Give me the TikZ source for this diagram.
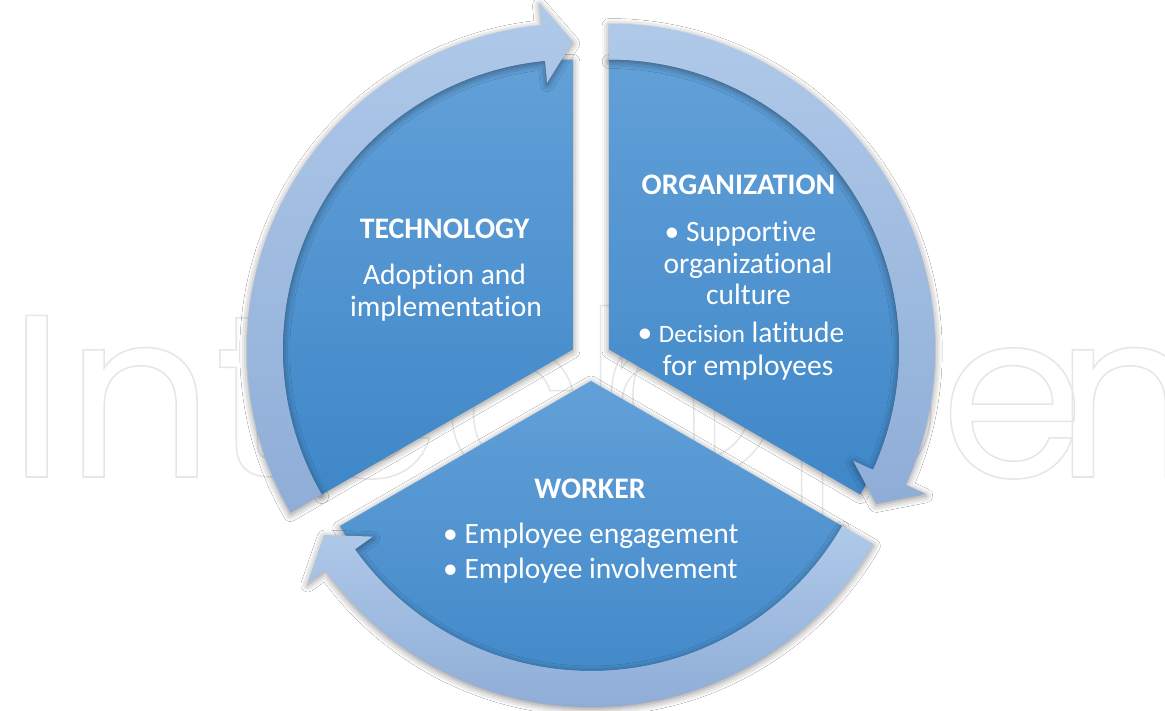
\documentclass[tikz,border=0pt]{standalone}
\usepackage{fontspec}
\setmainfont{Carlito}[Ligatures={NoCommon,NoContextual}]
\newfontfamily\wmfont{Poppins}
\usetikzlibrary{shadows.blur}
\definecolor{secTop}{HTML}{62A0D8}
\definecolor{secBot}{HTML}{3F87C8}
\definecolor{arrTop}{HTML}{AFC9E9}
\definecolor{arrBot}{HTML}{8FADD7}
\definecolor{wmgray}{HTML}{E6E6E6}
\tikzset{
  softshadow/.style={blur shadow={shadow xshift=0pt, shadow yshift=-2pt, shadow blur radius=7pt, shadow opacity=45}},
  sector/.style={top color=secTop, bottom color=secBot, draw=none, softshadow},
  cyclearrow/.style={top color=arrTop, bottom color=arrBot, draw=none, softshadow},
  txt/.style={text=white, font=\fontsize{29.5}{32}\selectfont, inner sep=0pt, anchor=base},
  headtxt/.style={txt, font=\fontsize{29.8}{32}\selectfont\bfseries},
}
\newcommand\mysector[1]{%
  \begin{scope}[shift={(C)}, shift={(#1:21)}]
    \path[sector] (0,0) -- (#1-60:290) arc[start angle=#1-60, end angle=#1+60, radius=290] -- cycle;
  \end{scope}}
\newcommand\myarrow[3]{%
  \begin{scope}[shift={(C)}, shift={(#1:21)}]
    \path[cyclearrow] (#2:326) arc[start angle=#2, end angle=#3+5.5, radius=326]
      -- (#3+5.5:348) -- (#3:308) -- (#3+5.5:268) -- (#3+5.5:290)
      arc[start angle=#3+5.5, end angle=#2, radius=290] -- cycle;
  \end{scope}}
\begin{document}
\begin{tikzpicture}[x=1pt, y=1pt]
\fill[white] (0,0) rectangle (1165,-711);
\useasboundingbox (0,0) rectangle (1165,-711);
% watermark
\node[anchor=base west, inner sep=0pt, text=wmgray, font=\wmfont\fontsize{232}{232}\selectfont] (wm) at (8,-477)
  {\special{pdf:literal direct 1 Tr 1.5 w}Intech\kern-130pt Ope\kern-30pt n\special{pdf:literal direct 0 Tr}};
\coordinate (C) at (591,-360);
% sectors
\mysector{150}
\mysector{30}
\mysector{270}
% arrows
\myarrow{150}{210}{90}
\myarrow{30}{90}{-30}
\myarrow{270}{330}{210}
% texts
\node[headtxt] (tech) at (444.5,-239) {TECHNOLOGY};
\node[txt] (tech1) at (444.5,-285) {Adoption and};
\node[txt] (tech2) at (446,-317) {implementation};
\node[headtxt] (org) at (738.5,-195) {ORGANIZATION};
\node[txt] (org1) at (740.5,-242) {• Supportive};
\node[txt] (org2) at (748,-273.5) {organizational};
\node[txt] (org3) at (748.5,-305) {culture};
\node[txt] (org4) at (741,-343) {• {\fontsize{25}{28}\selectfont Decision} latitude};
\node[txt] (org5) at (748,-375) {for employees};
\node[headtxt] (work) at (590,-498) {WORKER};
\node[txt, anchor=base west] (work1) at (443,-543) {• Employee engagement};
\node[txt, anchor=base west] (work2) at (443,-578) {• Employee involvement};
\end{tikzpicture}
\end{document}
